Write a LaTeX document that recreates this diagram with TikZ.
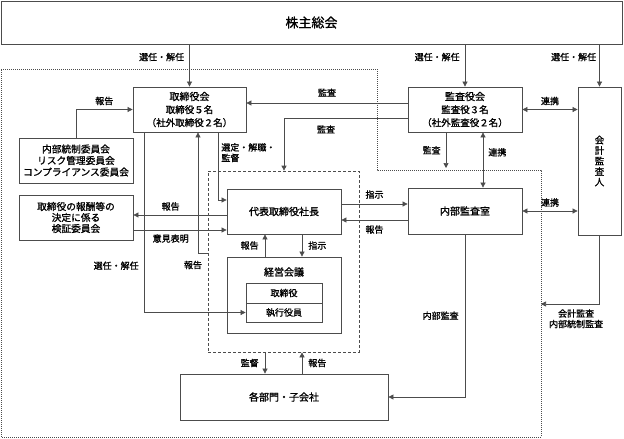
\documentclass[tikz,border=0pt]{standalone}
\usepackage{fontspec}
\setmainfont{Noto Sans CJK JP}[FakeBold=1.2]
\usetikzlibrary{arrows.meta}
\definecolor{lncol}{gray}{0.3}
\tikzset{
  box/.style={draw=lncol, line width=0.8pt, align=center, inner sep=0pt, font=\fontsize{10}{13}\selectfont},
  arr/.style={draw=lncol, line width=0.7pt, -{Triangle[length=5pt,width=5pt]}},
  darr/.style={draw=lncol, line width=0.7pt, {Triangle[length=5pt,width=5pt]}-{Triangle[length=5pt,width=5pt]}},
  lbl/.style={font=\fontsize{9}{10.5}\selectfont, inner sep=1pt},
}

\begin{document}
\begin{tikzpicture}[x=1pt,y=-1pt]
\useasboundingbox (0,0) rectangle (624,439);
\draw[lncol, line width=0.6pt, dash pattern=on 1pt off 1pt]
    (1,69) -- (377,69) -- (377,170) -- (541,170) -- (541,437) -- (1,437) -- cycle;
\node[draw=lncol, line width=0.7pt, dash pattern=on 3pt off 2pt, minimum width=151pt, minimum height=181pt] (dbox) at (283.5,261.5) {};

\node[box, minimum width=621pt, minimum height=43pt, font=\fontsize{13}{15}\selectfont] (soukai) at (311.5,22.5) {株主総会};
\node[box, minimum width=113pt, minimum height=45pt] (torikai) at (189.5,109.5)
    {取締役会\\{\fontsize{9.5}{12}\selectfont 取締役５名}\\{\fontsize{9.5}{12}\selectfont （社外取締役２名）}};
\node[box, minimum width=114pt, minimum height=45pt, font=\fontsize{9.7}{11.5}\selectfont] (iinkai) at (76,160.5)
    {内部統制委員会\\リスク管理委員会\\コンプライアンス委員会};
\node[box, minimum width=114pt, minimum height=45pt, font=\fontsize{9.7}{11}\selectfont] (houshu) at (76,217.5)
    {取締役の報酬等の\\決定に係る\\検証委員会};
\node[box, minimum width=114pt, minimum height=45pt] (shacho) at (284,211.5) {代表取締役社長};
\node[box, minimum width=114pt, minimum height=76pt] (keiei) at (284,295) {};
\node[inner sep=0pt, font=\fontsize{10}{13}\selectfont] (keieititle) at (284,272) {経営会議};
\node[box, minimum width=76pt, minimum height=20pt, font=\fontsize{9}{11}\selectfont] (torishimari) at (284,293) {取締役};
\node[box, minimum width=76pt, minimum height=19pt, font=\fontsize{9}{11}\selectfont] (shikkou) at (284,312.5) {執行役員};
\node[box, minimum width=208pt, minimum height=46pt] (bumon) at (284,397) {各部門・子会社};
\node[box, minimum width=114pt, minimum height=45pt] (kansayaku) at (465,109.5)
    {監査役会\\{\fontsize{9.5}{12}\selectfont 監査役３名}\\{\fontsize{9.5}{12}\selectfont （社外監査役２名）}};
\node[box, minimum width=114pt, minimum height=46pt] (naibukansa) at (465,211) {内部監査室};
\node[box, minimum width=43pt, minimum height=148pt, font=\fontsize{9.5}{10.5}\selectfont] (kaikei) at (599.5,161) {会\\計\\監\\査\\人};

\coordinate (kansaend) at (446,168);
\coordinate (kaikeiend) at (541,304);

\draw[arr] (torikai.north |- soukai.south) -- node[lbl, pos=0.3, left=4pt] {選任・解任} (torikai.north);
\draw[arr] (kansayaku.north |- soukai.south) -- node[lbl, pos=0.3, left=4pt] {選任・解任} (kansayaku.north);
\draw[arr] (kaikei.north |- soukai.south) -- node[lbl, pos=0.3, left=2pt] {選任・解任} (kaikei.north);

\draw[arr] (iinkai.north) |- node[lbl, pos=0.75, above=3pt] {報告} (torikai.west);
\draw[arr] (shacho.west |- 0,215) -- node[lbl, pos=0.6, above=3pt] {報告} (houshu.east |- 0,215);
\draw[arr] (houshu.east |- 0,230) -- node[lbl, pos=0.4, below=3pt] {意見表明} (shacho.west |- 0,230);
\draw[arr] (torikai.south -| 144,0) |- node[lbl, pos=0.37, left=4pt] {選任・解任} (shikkou.west);
\draw[arr] (dbox.west |- 0,253) -| node[lbl, xshift=-5pt, yshift=-12pt] {報告} (torikai.south -| 198,0);
\draw[arr] (torikai.south -| 218,0) |- node[lbl, pos=0.07, anchor=north west, xshift=2pt, align=left] {選定・解職・\\監督} (shacho.west |- 0,200);

\draw[arr] (kansayaku.west |- 0,103) -- node[lbl, above=5pt] {監査} (torikai.east |- 0,103);
\draw[arr] (kansayaku.west |- 0,118) -| node[lbl, pos=0.33, below=6pt] {監査} (dbox.north -| 284,0);
\draw[arr] (kansayaku.south -| kansaend) -- node[lbl, left=4pt] {監査} (kansaend);
\draw[darr] (kansayaku.south -| 483,0) -- node[lbl, pos=0.36, right=4pt] {連携} (naibukansa.north -| 483,0);
\draw[darr] (kansayaku.east) -- node[lbl, above=3pt] {連携} (kansayaku.east -| kaikei.west);

\draw[arr] (shacho.east |- 0,204) -- node[lbl, above=4pt] {指示} (naibukansa.west |- 0,204);
\draw[arr] (naibukansa.west |- 0,220) -- node[lbl, below=4pt] {報告} (shacho.east |- 0,220);
\draw[darr] (naibukansa.east) -- node[lbl, above=3pt] {連携} (naibukansa.east -| kaikei.west);

\draw[arr] (keiei.north -| 265,0) -- node[lbl, left=5pt] {報告} (shacho.south -| 265,0);
\draw[arr] (shacho.south -| 302,0) -- node[lbl, right=5pt] {指示} (keiei.north -| 302,0);
\draw[arr] (dbox.south -| 265,0) -- node[lbl, left=5pt] {監督} (bumon.north -| 265,0);
\draw[arr] (bumon.north -| 302,0) -- node[lbl, right=5pt] {報告} (dbox.south -| 302,0);

\draw[arr] (naibukansa.south) |- node[lbl, pos=0.25, left=5pt] {内部監査} (bumon.east);
\draw[arr] (kaikei.south) |- node[lbl, pos=0.7, below=4pt, align=center] {会計監査\\内部統制監査} (kaikeiend);
\end{tikzpicture}
\end{document}
